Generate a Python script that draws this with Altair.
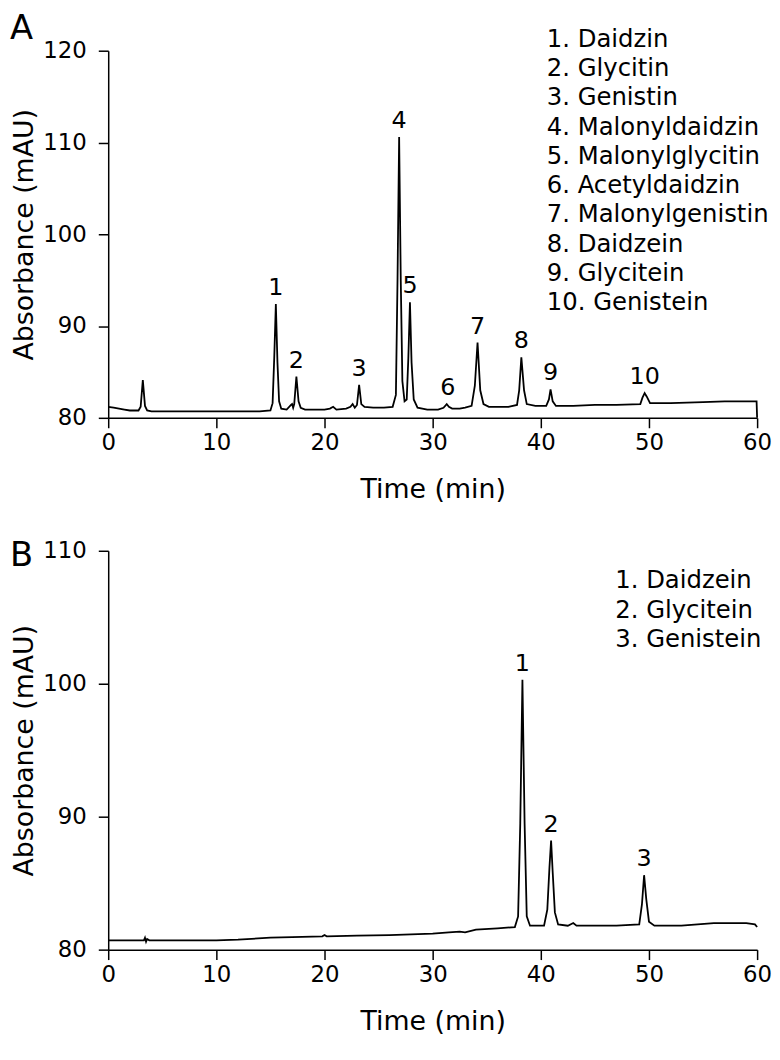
import altair as alt
import pandas as pd

FONT = "DejaVu Sans"

# ---------------- Panel A data ----------------
time_a = [0.0, 0.5, 1.0, 1.5, 2.0, 2.8, 3.0, 3.2, 3.4, 3.6, 4.0, 6.0, 8.0, 10.0, 12.0, 14.0,
          15.0, 15.2, 15.35, 15.5, 15.65, 15.8, 16.0, 16.5, 16.9, 17.0, 17.1, 17.2, 17.4, 17.6,
          17.8, 18.2, 19.0, 20.0, 20.5, 20.8, 21.1, 22.0, 22.4, 22.6, 22.8, 23.0, 23.2, 23.4,
          23.7, 24.5, 25.5, 26.3, 26.6, 26.75, 26.9, 27.05, 27.2, 27.4, 27.6, 27.75, 27.9,
          28.05, 28.25, 28.6, 29.5, 30.5, 31.0, 31.3, 31.5, 31.8, 32.5, 33.0, 33.6, 33.9,
          34.15, 34.4, 34.7, 35.2, 37.0, 37.8, 38.0, 38.2, 38.45, 38.7, 39.5, 40.5, 40.75,
          40.9, 41.1, 41.4, 43.0, 45.0, 47.0, 49.2, 49.4, 49.6, 49.8, 50.1, 52.0, 55.0, 57.0,
          59.95, 60.0]
abs_a = [81.2, 81.1, 81.0, 80.9, 80.8, 80.8, 81.2, 84.1, 81.3, 80.8, 80.7, 80.7, 80.7, 80.7,
         80.7, 80.7, 80.8, 81.6, 86.5, 92.4, 86.0, 81.8, 81.0, 80.9, 81.4, 81.5, 81.1, 81.5,
         84.5, 81.8, 81.1, 80.9, 80.9, 80.9, 81.0, 81.2, 80.9, 81.0, 81.2, 81.5, 81.1, 81.4,
         83.6, 81.5, 81.2, 81.1, 81.1, 81.2, 82.5, 95.0, 110.6, 95.0, 84.0, 81.8, 82.0, 86.5,
         92.6, 86.0, 82.0, 81.1, 80.9, 80.9, 81.1, 81.5, 81.2, 81.0, 81.0, 81.1, 81.3, 83.5,
         88.2, 83.0, 81.5, 81.2, 81.2, 81.4, 83.0, 86.6, 83.0, 81.5, 81.3, 81.3, 82.0, 83.1,
         81.8, 81.3, 81.3, 81.4, 81.4, 81.5, 82.2, 82.7, 82.3, 81.6, 81.6, 81.7, 81.8, 81.8,
         80.0]

peak_time_a = [15.5, 17.4, 23.2, 26.9, 27.9, 31.4, 34.15, 38.2, 40.9, 49.6]
peak_abs_a = [92.4, 84.5, 83.6, 110.6, 92.6, 81.5, 88.2, 86.6, 83.1, 82.7]
peak_text_a = ["1", "2", "3", "4", "5", "6", "7", "8", "9", "10"]

legend_a = ["1. Daidzin", "2. Glycitin", "3. Genistin", "4. Malonyldaidzin",
            "5. Malonylglycitin", "6. Acetyldaidzin", "7. Malonylgenistin",
            "8. Daidzein", "9. Glycitein", "10. Genistein"]

# ---------------- Panel B data ----------------
time_b = [0.0, 2.0, 3.3, 3.4, 3.5, 3.6, 3.8, 6.0, 10.0, 12.0, 15.0, 17.0, 19.8, 20.0, 20.2,
          23.0, 26.0, 28.0, 30.0, 31.5, 32.5, 33.0, 34.0, 36.0, 37.6, 37.9, 38.1, 38.3, 38.5,
          38.7, 39.0, 40.3, 40.6, 40.8, 40.95, 41.1, 41.3, 41.6, 42.5, 43.0, 43.3, 45.0, 47.0,
          49.1, 49.35, 49.55, 49.75, 50.0, 50.5, 53.0, 56.0, 59.0, 59.8, 60.0]
abs_b = [80.7, 80.7, 80.7, 80.9, 80.6, 80.8, 80.7, 80.7, 80.7, 80.75, 80.9, 80.95, 81.0, 81.1,
         81.0, 81.05, 81.1, 81.15, 81.2, 81.3, 81.35, 81.3, 81.5, 81.6, 81.7, 82.5, 89.5, 100.3,
         89.5, 82.5, 81.8, 81.8, 83.0, 86.2, 88.2, 85.8, 82.8, 81.9, 81.8, 82.0, 81.8, 81.8,
         81.8, 81.9, 83.4, 85.6, 83.8, 82.1, 81.8, 81.8, 82.0, 82.0, 81.9, 81.7]

peak_time_b = [38.3, 40.95, 49.55]
peak_abs_b = [100.3, 88.2, 85.6]
peak_text_b = ["1", "2", "3"]

legend_b = ["1. Daidzein", "2. Glycitein", "3. Genistein"]

x_ticks = [0, 10, 20, 30, 40, 50, 60]


def panel(times, values, ptimes, pvals, ptext, legend, letter, ydomain, yticks,
          height, legend_x, legend_y, letter_y):
    trace = pd.DataFrame({"t": times, "a": values})
    peaks = pd.DataFrame({"t": ptimes, "a": pvals, "lab": ptext})
    xs = alt.Scale(domain=[0, 60], nice=False, zero=False)
    ys = alt.Scale(domain=ydomain, nice=False, zero=False)
    line = alt.Chart(trace).mark_line(color="black", strokeWidth=1.8).encode(
        x=alt.X("t:Q", scale=xs, axis=alt.Axis(values=x_ticks, title="Time (min)")),
        y=alt.Y("a:Q", scale=ys, axis=alt.Axis(values=yticks, title="Absorbance (mAU)")),
    )
    labels = alt.Chart(peaks).mark_text(
        font=FONT, fontSize=24, color="black", baseline="alphabetic", dy=-9
    ).encode(x="t:Q", y="a:Q", text="lab:N")
    leg = alt.Chart(pd.DataFrame({"txt": ["\n".join(legend)]})).mark_text(
        font=FONT, fontSize=24.5, color="black", align="left", baseline="top",
        lineBreak="\n", lineHeight=29.5
    ).encode(text="txt:N", x=alt.value(legend_x), y=alt.value(legend_y))
    let = alt.Chart(pd.DataFrame({"txt": [letter]})).mark_text(
        font=FONT, fontSize=34, color="black", align="left", baseline="alphabetic"
    ).encode(text="txt:N", x=alt.value(-99), y=alt.value(letter_y))
    return alt.layer(line, labels, leg, let).properties(width=654, height=height)


chart_a = panel(time_a, abs_a, peak_time_a, peak_abs_a, peak_text_a, legend_a, "A",
                [80, 120], [80, 90, 100, 110, 120], 370, 442, -23, -12)
chart_b = panel(time_b, abs_b, peak_time_b, peak_abs_b, peak_text_b, legend_b, "B",
                [80, 110], [80, 90, 100, 110], 402, 511, 19, 15)

chart = alt.vconcat(chart_a, chart_b, spacing=37).properties(
    padding={"left": 2, "top": 0, "right": 0, "bottom": 0}
).configure_view(stroke=None).configure_axis(
    domainColor="black", domainWidth=1.5, tickColor="black", tickWidth=1.5, tickSize=10,
    labelFont=FONT, labelFontSize=23, labelColor="black", labelFlush=False,
    titleFont=FONT, titleFontSize=27, titleFontWeight="normal", titleColor="black",
    grid=False
).configure_axisX(labelPadding=4, titlePadding=22).configure_axisY(
    labelPadding=12, titlePadding=4)

chart.save("out.html", embed_options={"renderer": "svg", "actions": False})
